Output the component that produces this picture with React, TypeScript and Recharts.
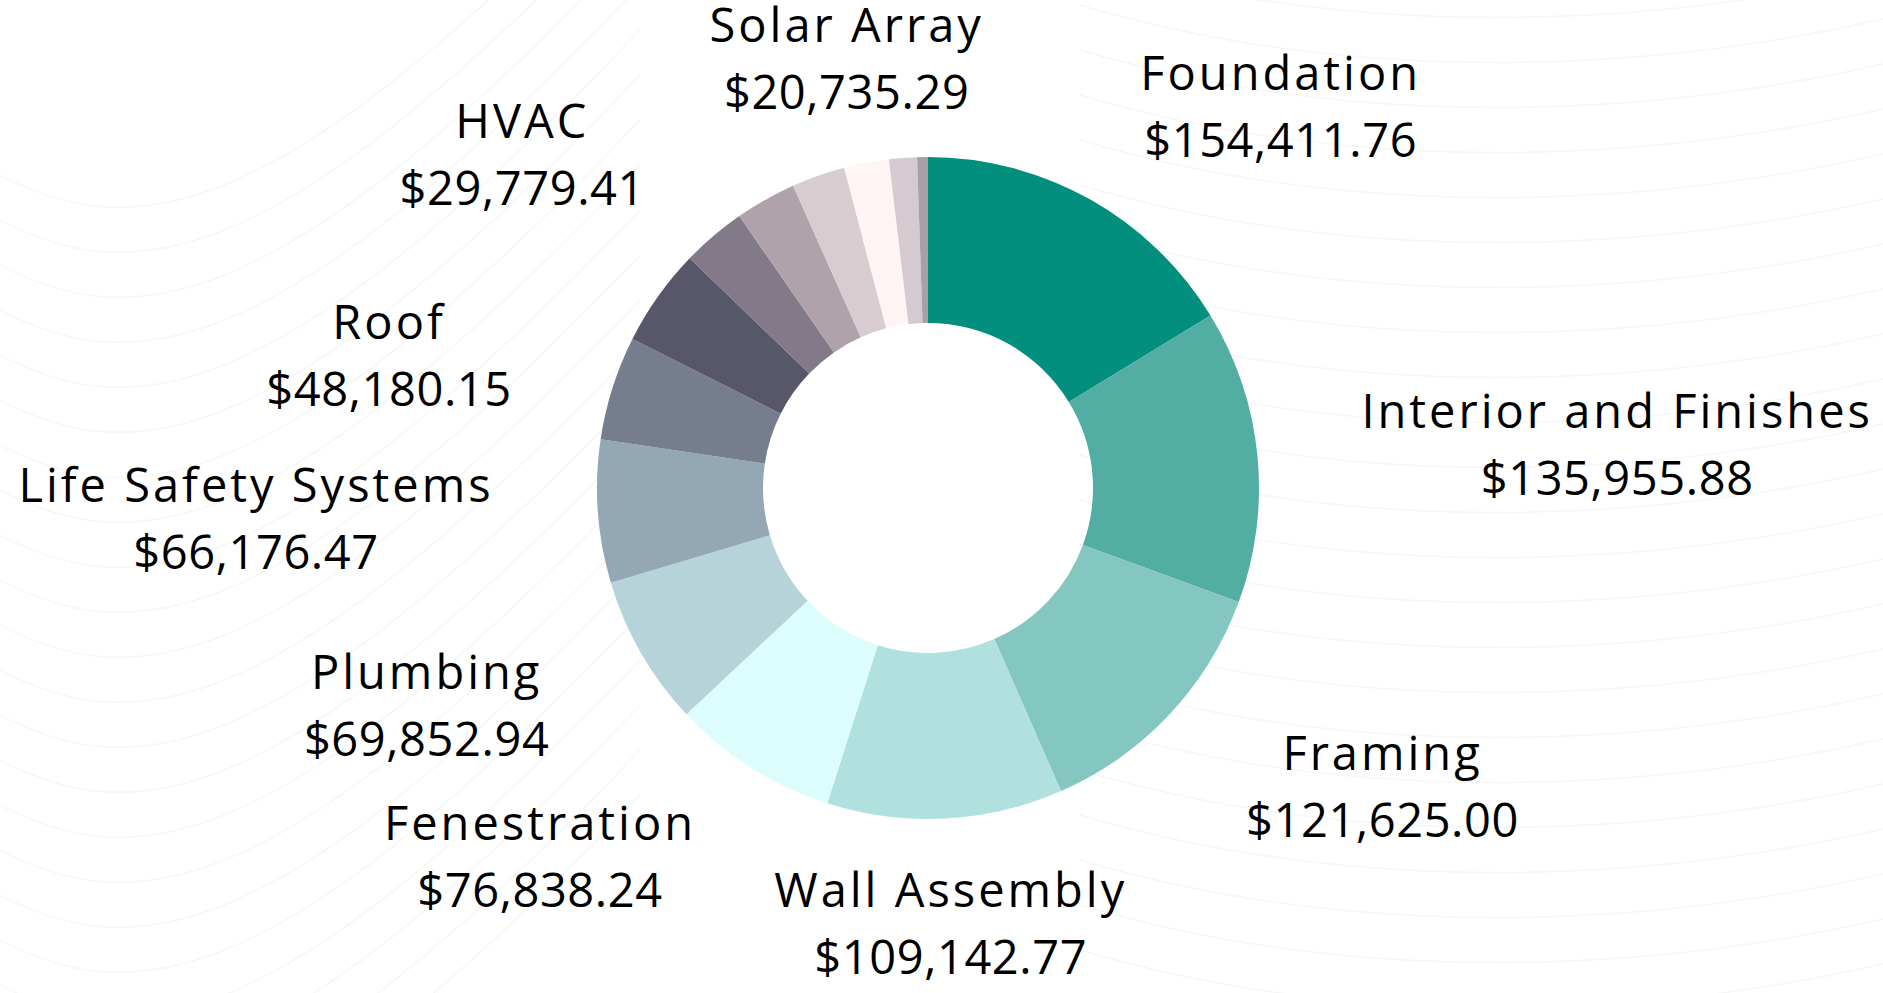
import React from 'react';
import { PieChart, Pie, Cell } from 'recharts';

// ---------- data ----------
const categories = [
  'Foundation',
  'Interior and Finishes',
  'Framing',
  'Wall Assembly',
  'Fenestration',
  'Plumbing',
  'Life Safety Systems',
  'Roof',
  'Electrical',
  'HVAC',
  'Site Work',
  'Insulation',
  'Solar Array',
  'Permits and Fees',
  'Contingency',
];
const costs = [
  154411.76, 135955.88, 121625.0, 109142.77, 76838.24, 69852.94, 66176.47,
  48180.15, 45300.0, 29779.41, 28200.0, 24770.0, 20735.29, 12900.0, 5000.0,
];
const sliceColors = [
  '#028f7e', '#52ada2', '#83c7c0', '#b1e1de', '#dcfdfc', '#b5d3d8', '#94a7b5',
  '#767d8f', '#585669', '#837a89', '#afa2ab', '#d8ccd0', '#fff5f5', '#d5cacf',
  '#a9a0a5',
];
const labeledCategories = [
  'Foundation',
  'Interior and Finishes',
  'Framing',
  'Wall Assembly',
  'Fenestration',
  'Plumbing',
  'Life Safety Systems',
  'Roof',
  'HVAC',
  'Solar Array',
];

const data = categories.map((name, i) => ({ name, value: costs[i] }));

// ---------- style ----------
const W = 1883;
const H = 993;
const FONT_FAMILY = '"Open Sans", "DejaVu Sans", sans-serif';
const FONT_SIZE = 47;
const FONT_WEIGHT = 500;
const NAME_SPACING = 3.0;
const VALUE_SPACING = 0.6;
const LABEL_GAP = 106;

let measureCtx: CanvasRenderingContext2D | null = null;
function measure(text: string, spacing: number): number {
  if (!measureCtx) {
    measureCtx = document.createElement('canvas').getContext('2d');
  }
  if (!measureCtx) return text.length * FONT_SIZE * 0.55;
  measureCtx.font = `${FONT_WEIGHT} ${FONT_SIZE}px "Open Sans"`;
  return measureCtx.measureText(text).width + spacing * (text.length - 1);
}

const fmt = (v: number) =>
  '$' + v.toLocaleString('en-US', { minimumFractionDigits: 2, maximumFractionDigits: 2 });

const renderLabel = (props: any) => {
  const { cx, cy, midAngle, outerRadius, name, value } = props;
  if (!labeledCategories.includes(name)) return <g />;
  const rad = (-midAngle * Math.PI) / 180;
  const r = outerRadius + LABEL_GAP;
  const ax = cx + r * Math.cos(rad);
  const ay = cy + r * Math.sin(rad);
  const dir = Math.cos(rad);
  const valueText = fmt(value);
  const w = Math.max(measure(name, NAME_SPACING), measure(valueText, VALUE_SPACING));
  let x = ax;
  if (dir > 0.3) x = ax + w / 2;
  else if (dir < -0.3) x = ax - w / 2;
  return (
    <text
      x={x}
      y={ay}
      textAnchor="middle"
      fontFamily={FONT_FAMILY}
      fontSize={FONT_SIZE}
      fontWeight={FONT_WEIGHT}
      fill="#000"
    >
      <tspan x={x} y={ay - 17} letterSpacing={NAME_SPACING}>
        {name}
      </tspan>
      <tspan x={x} y={ay + 50} letterSpacing={VALUE_SPACING}>
        {valueText}
      </tspan>
    </text>
  );
};

// decorative faint background curves
const Background = () => {
  const paths: string[] = [];
  for (let i = 0; i < 22; i++) {
    const y0 = 170 + i * 45;
    paths.push(`M -10 ${y0} C 120 ${y0 + 70}, 260 ${y0 + 80}, 640 ${y0 - 320}`);
  }
  for (let i = 0; i < 24; i++) {
    const y0 = -40 + i * 45;
    paths.push(`M 1080 ${y0} C 1350 ${y0 + 80}, 1650 ${y0 + 70}, 1900 ${y0 + 10}`);
  }
  return (
    <svg width={W} height={H} style={{ position: 'absolute', left: 0, top: 0 }}>
      {paths.map((d, i) => (
        <path key={i} d={d} fill="none" stroke="#f6f6f6" strokeWidth={1.5} />
      ))}
    </svg>
  );
};

export default function App() {
  return (
    <div
      style={{
        position: 'fixed',
        left: 0,
        top: 0,
        width: W,
        height: H,
        background: '#ffffff',
        overflow: 'hidden',
      }}
    >
      <Background />
      <div style={{ position: 'absolute', left: 0, top: 0 }}>
        <PieChart width={W} height={H} margin={{ top: 0, right: 0, bottom: 0, left: 0 }}>
          <Pie
            data={data}
            dataKey="value"
            nameKey="name"
            cx={928}
            cy={488}
            innerRadius={165}
            outerRadius={331}
            startAngle={90}
            endAngle={-270}
            stroke="none"
            label={renderLabel}
            labelLine={false}
            isAnimationActive={false}
          >
            {data.map((d, i) => (
              <Cell key={d.name} fill={sliceColors[i]} stroke="none" />
            ))}
          </Pie>
        </PieChart>
      </div>
    </div>
  );
}
